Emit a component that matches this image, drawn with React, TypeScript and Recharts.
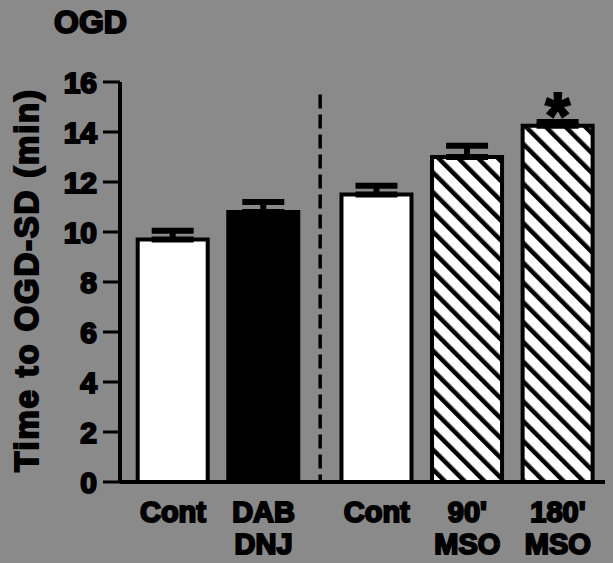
import React from 'react';
import { BarChart, Bar, XAxis, YAxis, Cell, ErrorBar, ReferenceLine, LabelList } from 'recharts';

const categories = ['Cont', 'DAB\nDNJ', 'Cont', "90'\nMSO", "180'\nMSO"];
const means = [9.7, 10.8, 11.5, 13.0, 14.25];
const sems = [0.35, 0.4, 0.35, 0.45, 0.15];
const fills = ['#ffffff', '#000000', '#ffffff', 'url(#hatch)', 'url(#hatch)'];
const significance = ['', '', '', '', '*'];
const yTicks = [0, 2, 4, 6, 8, 10, 12, 14, 16];
const title = 'OGD';
const yLabel = 'Time to OGD-SD (min)';

const GROUP_GAP = 0.25;
const data = categories.map((c, i) => ({
  pos: i + (i >= 2 ? GROUP_GAP : 0),
  label: c,
  mean: means[i],
  err: [0, sems[i]],
  sig: significance[i],
}));
const dividerX = (data[1].pos + data[2].pos) / 2;

const BG = '#8a8a8a';
const FONT = '"Liberation Sans", Arial, sans-serif';

const XTick = (props: any) => {
  const { x, y, payload } = props;
  const idx = data.findIndex((d) => Math.abs(d.pos - payload.value) < 1e-6);
  const lines = idx >= 0 ? data[idx].label.split('\n') : [];
  return (
    <text x={x} y={y} textAnchor="middle" fontFamily={FONT} fontWeight="bold" fontSize={29}
      fill="#000" stroke="#000" strokeWidth={2}>
      {lines.map((l: string, k: number) => (
        <tspan key={k} x={x} dy={32}>{l}</tspan>
      ))}
    </text>
  );
};

const SigLabel = (props: any) => {
  const { x, y, width, value } = props;
  if (!value) return null;
  return (
    <text x={x + width / 2} y={y + 12} textAnchor="middle" fontFamily={FONT} fontWeight="bold"
      fontSize={64} fill="#000" stroke="#000" strokeWidth={2}>
      {value}
    </text>
  );
};

export default function App() {
  return (
    <div style={{ position: 'absolute', left: 0, top: 0, width: 613, height: 563, background: BG, overflow: 'hidden' }}>
      <svg width={0} height={0} style={{ position: 'absolute' }}>
        <defs>
          <pattern id="hatch" patternUnits="userSpaceOnUse" width={14} height={14} patternTransform="rotate(-45)">
            <rect x={0} y={0} width={14} height={14} fill="#ffffff" />
            <rect x={0} y={0} width={4.5} height={14} fill="#000000" />
          </pattern>
        </defs>
      </svg>
      <div style={{ position: 'absolute', left: 54, top: 4, fontFamily: FONT, fontWeight: 'bold', fontSize: 32,
        color: '#000', WebkitTextStroke: '2px #000', lineHeight: '36px' }}>{title}</div>
      <div style={{ position: 'absolute', left: 27, top: 280, transform: 'translate(-50%, -50%) rotate(-90deg)',
        whiteSpace: 'nowrap', fontFamily: FONT, fontWeight: 'bold', fontSize: 33, letterSpacing: 1.8,
        color: '#000', WebkitTextStroke: '2px #000', lineHeight: '36px' }}>{yLabel}</div>
      <BarChart width={613} height={563} data={data} margin={{ top: 82, right: 8, bottom: 21, left: 0 }}>
        <XAxis dataKey="pos" type="number" domain={[-0.585, 4.77]} ticks={data.map((d) => d.pos)}
          height={60} tickLine={false} axisLine={{ stroke: '#000', strokeWidth: 4 }} tick={<XTick />} interval={0} />
        <YAxis type="number" domain={[0, 16]} ticks={yTicks} width={120} tickSize={17} tickMargin={6}
          axisLine={{ stroke: '#000', strokeWidth: 4 }} tickLine={{ stroke: '#000', strokeWidth: 3 }}
          tick={{ fill: '#000', fontFamily: FONT, fontWeight: 'bold', fontSize: 30, stroke: '#000', strokeWidth: 2 }}
          interval={0} />
        <ReferenceLine segment={[{ x: dividerX, y: 15.5 }, { x: dividerX, y: 0 }]} stroke="#000"
          strokeWidth={3.5} strokeDasharray="14 6" />
        <Bar dataKey="mean" barSize={70} stroke="#000" strokeWidth={4} isAnimationActive={false}>
          {data.map((d, i) => (
            <Cell key={i} fill={fills[i]} />
          ))}
          <ErrorBar dataKey="err" width={21} stroke="#000" strokeWidth={6} direction="y" isAnimationActive={false} />
          <LabelList dataKey="sig" content={<SigLabel />} />
        </Bar>
      </BarChart>
    </div>
  );
}
